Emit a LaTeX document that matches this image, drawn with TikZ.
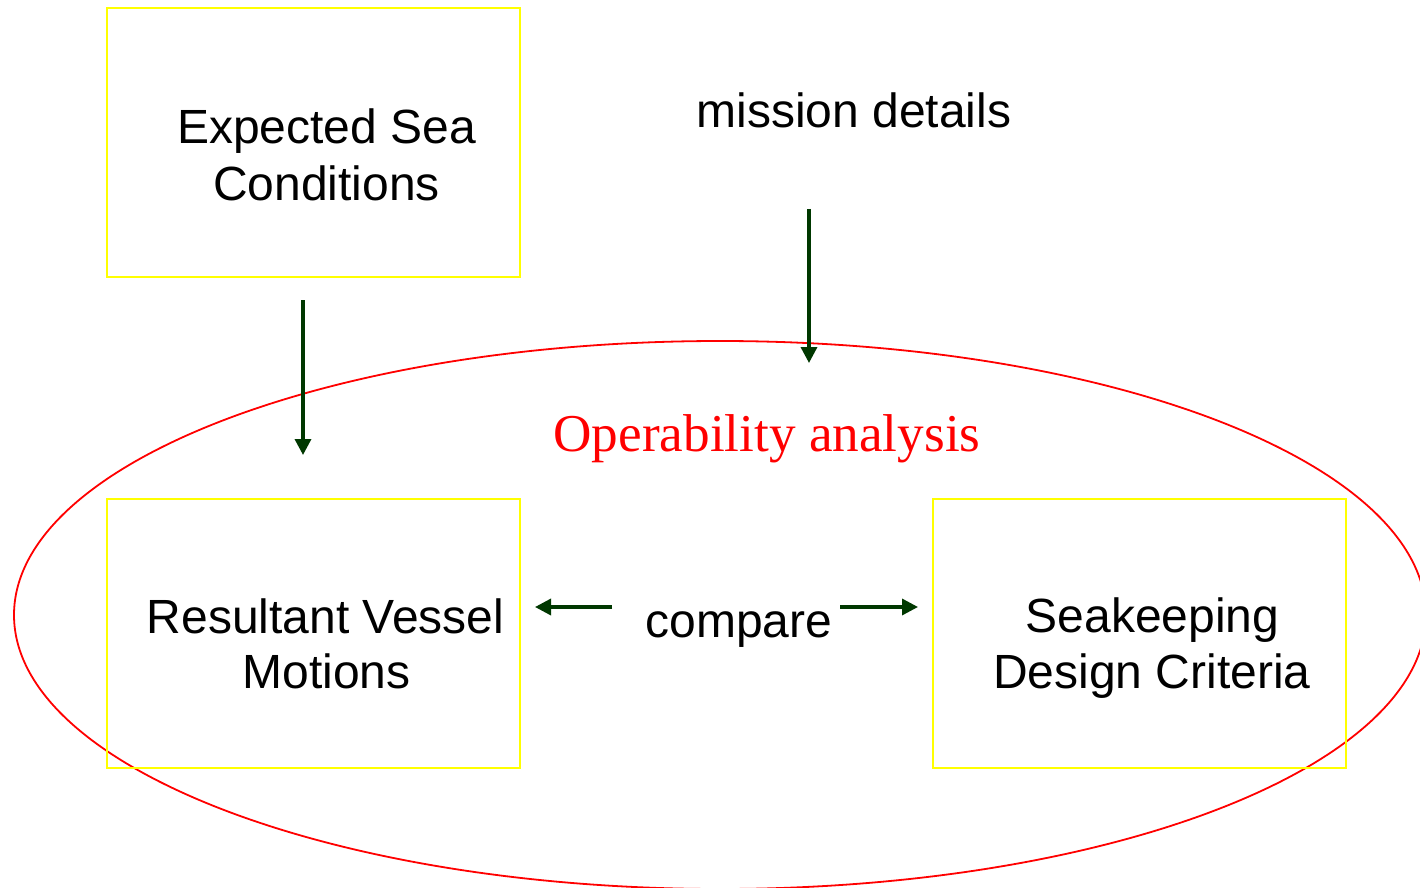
\documentclass[tikz,border=0pt]{standalone}
\usepackage{fontspec}
\setmainfont{Liberation Sans}
\newfontfamily\serifrm{Liberation Serif}
\usetikzlibrary{arrows.meta}
\definecolor{arrowgreen}{RGB}{0,56,0}
\definecolor{boxyellow}{RGB}{255,255,0}
\definecolor{ellred}{RGB}{255,0,0}
\tikzset{
  ybox/.style={draw=boxyellow,line width=1pt,minimum width=206.5pt,minimum height=134.5pt,inner sep=0pt},
  lbl/.style={inner sep=0pt,anchor=base,font=\fontsize{24}{28}\selectfont},
  garrow/.style={draw=arrowgreen,line width=1.7pt,-{Triangle[width=8pt,length=8pt]}}
}
\begin{document}
\begin{tikzpicture}[x=0.5pt,y=-0.5pt]
\useasboundingbox (0,0) rectangle (1420,888);
\clip (0,0) rectangle (1420,888);
\fill[white] (0,0) rectangle (1420,888);
\draw[ellred,line width=0.9pt] (720,615) ellipse [x radius=706, y radius=274];
\node[ybox] (esc) at (313.5,142.5) {};
\node[ybox] (rvm) at (313.5,633.5) {};
\node[ybox] (sdc) at (1139,633.5) {};
\node[lbl] (esc1) at (326.5,144) {Expected Sea};
\node[lbl] (esc2) at (326.5,200) {Conditions};
\node[lbl] (rvm1) at (325.5,633) {Resultant Vessel};
\node[lbl] (rvm2) at (326.5,688) {Motions};
\node[lbl] (sdc1) at (1152.5,632) {Seakeeping};
\node[lbl] (sdc2) at (1152,688) {Design Criteria};
\node[lbl] (md) at (854,128) {mission details};
\node[lbl] (cmp) at (739,637) {compare};
\node[inner sep=0pt,anchor=base,text=ellred,font=\serifrm\fontsize{26.6}{30}\selectfont] (op) at (767,451) {Operability analysis};
\coordinate (a1s) at (303,300);
\coordinate (a1e) at (303,455);
\coordinate (a2s) at (809,209);
\coordinate (a2e) at (809,363);
\coordinate (l1s) at (612,607);
\coordinate (l1e) at (535,607);
\coordinate (r1s) at (840,607);
\coordinate (r1e) at (918,607);
\draw[garrow] (a1s) -- (a1e);
\draw[garrow] (a2s) -- (a2e);
\draw[garrow] (l1s) -- (l1e);
\draw[garrow] (r1s) -- (r1e);
\end{tikzpicture}
\end{document}
